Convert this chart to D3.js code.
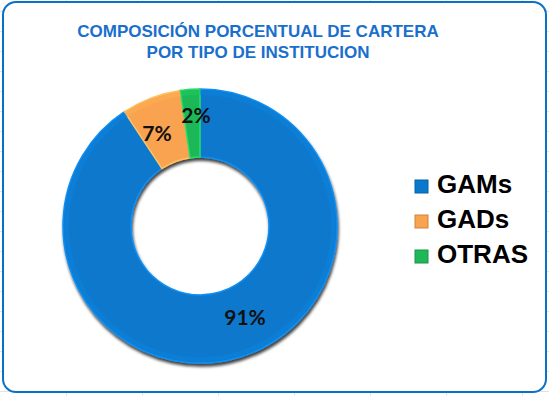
<!DOCTYPE html>
<html>
<head>
<meta charset="utf-8">
<script src="https://cdn.jsdelivr.net/npm/d3@7"></script>
<style>
  body { margin: 0; background: #fff; }
  svg { display: block; }
</style>
</head>
<body>
<div class="donut"></div>
<script>
const categories = ['GAMs', 'GADs', 'OTRAS']
const values = [90.7, 7.0, 2.3]
const labels = ['91%', '7%', '2%']
const colors = ['#0A78CC', '#F9A24F', '#1FB858']
const titleLines = ['COMPOSICIÓN PORCENTUAL DE CARTERA', 'POR TIPO DE INSTITUCION']

const width = 549
const height = 396
const cx = 200, cy = 226
const outerR = 137, innerR = 69

const svg = d3.select('.donut')
  .append('svg')
  .attr('width', width)
  .attr('height', height)

const defs = svg.append('defs')
defs.append('filter')
  .attr('id', 'shadow')
  .attr('x', '-20%').attr('y', '-20%')
  .attr('width', '140%').attr('height', '140%')
  .append('feDropShadow')
  .attr('dx', 1).attr('dy', 3)
  .attr('stdDeviation', 1.8)
  .attr('flood-color', '#000')
  .attr('flood-opacity', 0.75)

// spreadsheet grid behind the chart
const grid = svg.append('g').attr('stroke', '#e3e3e3').attr('stroke-width', 1)
d3.range(66.5, width, 76).forEach(x => {
  grid.append('line').attr('x1', x).attr('x2', x).attr('y1', 0).attr('y2', height)
})
d3.range(11.5, height, 20).forEach(y => {
  grid.append('line').attr('x1', 0).attr('x2', width).attr('y1', y).attr('y2', y)
})

// chart area
svg.append('rect')
  .attr('x', 3).attr('y', 2)
  .attr('width', 543).attr('height', 390)
  .attr('rx', 13)
  .attr('fill', '#fff')
  .attr('stroke', '#0A72C6')
  .attr('stroke-width', 2)

svg.append('g')
  .selectAll('text')
  .data(titleLines)
  .enter()
  .append('text')
  .text(d => d)
  .attr('x', 258)
  .attr('y', (d, i) => 37 + i * 21)
  .attr('text-anchor', 'middle')
  .attr('fill', '#1A6FCC')
  .attr('font-family', 'Liberation Sans, Arial, sans-serif')
  .attr('font-weight', 'bold')
  .attr('font-size', '17px')

const data = categories.map((c, i) => ({name: c, value: values[i], label: labels[i], color: colors[i]}))

const pie = d3.pie().value(d => d.value).sort(null)
const arc = d3.arc().innerRadius(innerR).outerRadius(outerR)
const arcs = pie(data)

const donut = svg.append('g')
  .attr('transform', `translate(${cx}, ${cy})`)

donut.append('g')
  .attr('filter', 'url(#shadow)')
  .selectAll('path')
  .data(arcs)
  .enter()
  .append('path')
  .attr('d', arc)
  .attr('fill', d => d.data.color)
  .attr('stroke', d => d3.color(d.data.color).brighter(0.5))
  .attr('stroke-width', 1.5)

// inner bevel highlight
donut.append('g')
  .selectAll('path')
  .data(arcs)
  .enter()
  .append('path')
  .attr('d', d3.arc().innerRadius(outerR - 6).outerRadius(outerR - 1))
  .attr('fill', d => d3.color(d.data.color).brighter(0.25))
  .attr('opacity', 0.5)

const labelPos = [[45, 92], [-43, -92], [-4, -110]]
donut.append('g')
  .selectAll('text')
  .data(arcs)
  .enter()
  .append('text')
  .text(d => d.data.label)
  .attr('x', (d, i) => labelPos[i][0])
  .attr('y', (d, i) => labelPos[i][1])
  .attr('dy', '.35em')
  .attr('text-anchor', 'middle')
  .attr('fill', '#111')
  .attr('font-family', 'Lato, Open Sans, sans-serif')
  .attr('font-weight', 'bold')
  .attr('font-size', '21px')

// legend
const legend = svg.append('g')
  .attr('transform', 'translate(415, 0)')

const rows = legend.selectAll('g')
  .data(data)
  .enter()
  .append('g')
  .attr('transform', (d, i) => `translate(0, ${193 + i * 35})`)

rows.append('rect')
  .attr('x', 0).attr('y', -13)
  .attr('width', 13).attr('height', 13)
  .attr('fill', d => d.color)
  .attr('stroke', d => d3.color(d.color).darker(0.6))
  .attr('stroke-width', 1)

rows.append('text')
  .text(d => d.name)
  .attr('x', 22)
  .attr('y', 0)
  .attr('fill', '#000')
  .attr('font-family', 'Liberation Sans, Arial, sans-serif')
  .attr('font-weight', 'bold')
  .attr('font-size', '26px')
</script>
</body>
</html>
